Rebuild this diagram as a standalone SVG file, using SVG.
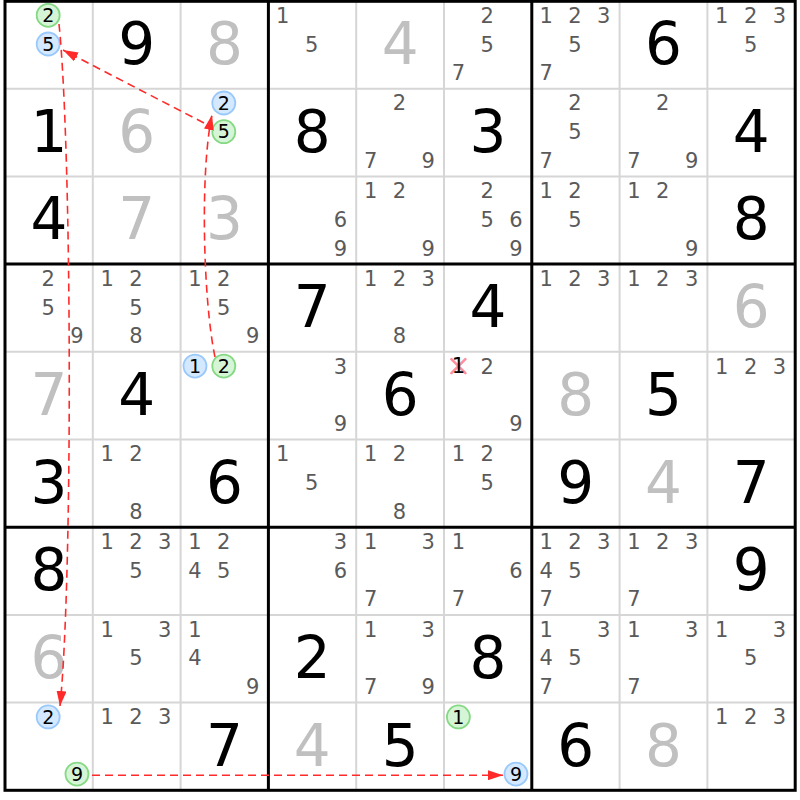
<svg xmlns="http://www.w3.org/2000/svg" width="800" height="800" viewBox="0 0 800 800">
<style>
.c{font-family:"DejaVu Sans","Liberation Sans",sans-serif;font-size:21px;fill:#5a5a5a;text-anchor:middle}
.b,.g{font-family:"DejaVu Sans","Liberation Sans",sans-serif;font-size:58px;text-anchor:middle}
.b{fill:#000}
.g{fill:#c0c0c0}
.t{font-family:"DejaVu Sans","Liberation Sans",sans-serif;font-size:19px;fill:#000;text-anchor:middle}
.cb{fill:#d4e8ff;stroke:#99c9fb;stroke-width:1.8}
.cg{fill:#d6f5d6;stroke:#85d985;stroke-width:1.8}
.thin{stroke:#d6d6d6;stroke-width:2}
.thick{stroke:#000;stroke-width:3}
.link{fill:none;stroke:#ff2a2a;stroke-width:1.6;stroke-dasharray:8 5;marker-end:url(#arrow)}
.x{stroke:#ff8e9e;stroke-width:2.6;stroke-linecap:round}
</style>
<defs>
<marker id="arrow" markerUnits="userSpaceOnUse" markerWidth="15" markerHeight="10" refX="15" refY="5" orient="auto">
<path d="M0,0 L15,5 L0,10 z" fill="#ff2a2a"/>
</marker>
</defs>
<rect x="0" y="0" width="800" height="800" fill="#fff"/>
<g id="grid">
<path class="thin" d="M92.8,1V790.3M180.6,1V790.3M356.2,1V790.3M444,1V790.3M619.6,1V790.3M707.4,1V790.3M5,88.7H795.2M5,176.4H795.2M5,351.8H795.2M5,439.5H795.2M5,614.9H795.2M5,702.6H795.2"/>
<path class="thick" d="M268.4,1V790.3M531.8,1V790.3M5,264.1H795.2M5,527.2H795.2"/>
<rect class="thick" x="5" y="1.3" width="790.2" height="789" fill="none"/>
</g>
<g id="cells">
<!-- row 0 -->
<g id="r0c0" transform="translate(5,1)"><circle class="cg" cx="43.2" cy="14.3" r="11.5"/><text class="t" x="43.2" y="21.1">2</text><circle class="cb" cx="43.2" cy="43" r="11.5"/><text class="t" x="43.2" y="49.8">5</text></g>
<g id="r0c1" transform="translate(92.8,1)"><text class="b" x="43.9" y="63">9</text></g>
<g id="r0c2" transform="translate(180.6,1)"><text class="g" x="43.9" y="63">8</text></g>
<g id="r0c3" transform="translate(268.4,1)"><text class="c" x="14.4" y="21.8">1</text><text class="c" x="43.2" y="50.6">5</text></g>
<g id="r0c4" transform="translate(356.2,1)"><text class="g" x="43.9" y="63">4</text></g>
<g id="r0c5" transform="translate(444,1)"><text class="c" x="43.2" y="21.8">2</text><text class="c" x="43.2" y="50.6">5</text><text class="c" x="14.4" y="79.2">7</text></g>
<g id="r0c6" transform="translate(531.8,1)"><text class="c" x="14.4" y="21.8">1</text><text class="c" x="43.2" y="21.8">2</text><text class="c" x="72" y="21.8">3</text><text class="c" x="43.2" y="50.6">5</text><text class="c" x="14.4" y="79.2">7</text></g>
<g id="r0c7" transform="translate(619.6,1)"><text class="b" x="43.9" y="63">6</text></g>
<g id="r0c8" transform="translate(707.4,1)"><text class="c" x="14.4" y="21.8">1</text><text class="c" x="43.2" y="21.8">2</text><text class="c" x="72" y="21.8">3</text><text class="c" x="43.2" y="50.6">5</text></g>
<!-- row 1 -->
<g id="r1c0" transform="translate(5,88.7)"><text class="b" x="43.9" y="63">1</text></g>
<g id="r1c1" transform="translate(92.8,88.7)"><text class="g" x="43.9" y="63">6</text></g>
<g id="r1c2" transform="translate(180.6,88.7)"><circle class="cb" cx="43.2" cy="14.3" r="11.5"/><text class="t" x="43.2" y="21.1">2</text><circle class="cg" cx="43.2" cy="43" r="11.5"/><text class="t" x="43.2" y="49.8">5</text></g>
<g id="r1c3" transform="translate(268.4,88.7)"><text class="b" x="43.9" y="63">8</text></g>
<g id="r1c4" transform="translate(356.2,88.7)"><text class="c" x="43.2" y="21.8">2</text><text class="c" x="14.4" y="79.2">7</text><text class="c" x="72" y="79.2">9</text></g>
<g id="r1c5" transform="translate(444,88.7)"><text class="b" x="43.9" y="63">3</text></g>
<g id="r1c6" transform="translate(531.8,88.7)"><text class="c" x="43.2" y="21.8">2</text><text class="c" x="43.2" y="50.6">5</text><text class="c" x="14.4" y="79.2">7</text></g>
<g id="r1c7" transform="translate(619.6,88.7)"><text class="c" x="43.2" y="21.8">2</text><text class="c" x="14.4" y="79.2">7</text><text class="c" x="72" y="79.2">9</text></g>
<g id="r1c8" transform="translate(707.4,88.7)"><text class="b" x="43.9" y="63">4</text></g>
<!-- row 2 -->
<g id="r2c0" transform="translate(5,176.4)"><text class="b" x="43.9" y="63">4</text></g>
<g id="r2c1" transform="translate(92.8,176.4)"><text class="g" x="43.9" y="63">7</text></g>
<g id="r2c2" transform="translate(180.6,176.4)"><text class="g" x="43.9" y="63">3</text></g>
<g id="r2c3" transform="translate(268.4,176.4)"><text class="c" x="72" y="50.6">6</text><text class="c" x="72" y="79.2">9</text></g>
<g id="r2c4" transform="translate(356.2,176.4)"><text class="c" x="14.4" y="21.8">1</text><text class="c" x="43.2" y="21.8">2</text><text class="c" x="72" y="79.2">9</text></g>
<g id="r2c5" transform="translate(444,176.4)"><text class="c" x="43.2" y="21.8">2</text><text class="c" x="43.2" y="50.6">5</text><text class="c" x="72" y="50.6">6</text><text class="c" x="72" y="79.2">9</text></g>
<g id="r2c6" transform="translate(531.8,176.4)"><text class="c" x="14.4" y="21.8">1</text><text class="c" x="43.2" y="21.8">2</text><text class="c" x="43.2" y="50.6">5</text></g>
<g id="r2c7" transform="translate(619.6,176.4)"><text class="c" x="14.4" y="21.8">1</text><text class="c" x="43.2" y="21.8">2</text><text class="c" x="72" y="79.2">9</text></g>
<g id="r2c8" transform="translate(707.4,176.4)"><text class="b" x="43.9" y="63">8</text></g>
<!-- row 3 -->
<g id="r3c0" transform="translate(5,264.1)"><text class="c" x="43.2" y="21.8">2</text><text class="c" x="43.2" y="50.6">5</text><text class="c" x="72" y="79.2">9</text></g>
<g id="r3c1" transform="translate(92.8,264.1)"><text class="c" x="14.4" y="21.8">1</text><text class="c" x="43.2" y="21.8">2</text><text class="c" x="43.2" y="50.6">5</text><text class="c" x="43.2" y="79.2">8</text></g>
<g id="r3c2" transform="translate(180.6,264.1)"><text class="c" x="14.4" y="21.8">1</text><text class="c" x="43.2" y="21.8">2</text><text class="c" x="43.2" y="50.6">5</text><text class="c" x="72" y="79.2">9</text></g>
<g id="r3c3" transform="translate(268.4,264.1)"><text class="b" x="43.9" y="63">7</text></g>
<g id="r3c4" transform="translate(356.2,264.1)"><text class="c" x="14.4" y="21.8">1</text><text class="c" x="43.2" y="21.8">2</text><text class="c" x="72" y="21.8">3</text><text class="c" x="43.2" y="79.2">8</text></g>
<g id="r3c5" transform="translate(444,264.1)"><text class="b" x="43.9" y="63">4</text></g>
<g id="r3c6" transform="translate(531.8,264.1)"><text class="c" x="14.4" y="21.8">1</text><text class="c" x="43.2" y="21.8">2</text><text class="c" x="72" y="21.8">3</text></g>
<g id="r3c7" transform="translate(619.6,264.1)"><text class="c" x="14.4" y="21.8">1</text><text class="c" x="43.2" y="21.8">2</text><text class="c" x="72" y="21.8">3</text></g>
<g id="r3c8" transform="translate(707.4,264.1)"><text class="g" x="43.9" y="63">6</text></g>
<!-- row 4 -->
<g id="r4c0" transform="translate(5,351.8)"><text class="g" x="43.9" y="63">7</text></g>
<g id="r4c1" transform="translate(92.8,351.8)"><text class="b" x="43.9" y="63">4</text></g>
<g id="r4c2" transform="translate(180.6,351.8)"><circle class="cb" cx="14.4" cy="14.3" r="11.5"/><text class="t" x="14.4" y="21.1">1</text><circle class="cg" cx="43.2" cy="14.3" r="11.5"/><text class="t" x="43.2" y="21.1">2</text></g>
<g id="r4c3" transform="translate(268.4,351.8)"><text class="c" x="72" y="21.8">3</text><text class="c" x="72" y="79.2">9</text></g>
<g id="r4c4" transform="translate(356.2,351.8)"><text class="b" x="43.9" y="63">6</text></g>
<g id="r4c5" transform="translate(444,351.8)"><path class="x" d="M7.4,7.3 L21.4,21.3 M21.4,7.3 L7.4,21.3"/><text class="t" x="14.4" y="21.3" style="font-size:21px">1</text><text class="c" x="43.2" y="21.8">2</text><text class="c" x="72" y="79.2">9</text></g>
<g id="r4c6" transform="translate(531.8,351.8)"><text class="g" x="43.9" y="63">8</text></g>
<g id="r4c7" transform="translate(619.6,351.8)"><text class="b" x="43.9" y="63">5</text></g>
<g id="r4c8" transform="translate(707.4,351.8)"><text class="c" x="14.4" y="21.8">1</text><text class="c" x="43.2" y="21.8">2</text><text class="c" x="72" y="21.8">3</text></g>
<!-- row 5 -->
<g id="r5c0" transform="translate(5,439.5)"><text class="b" x="43.9" y="63">3</text></g>
<g id="r5c1" transform="translate(92.8,439.5)"><text class="c" x="14.4" y="21.8">1</text><text class="c" x="43.2" y="21.8">2</text><text class="c" x="43.2" y="79.2">8</text></g>
<g id="r5c2" transform="translate(180.6,439.5)"><text class="b" x="43.9" y="63">6</text></g>
<g id="r5c3" transform="translate(268.4,439.5)"><text class="c" x="14.4" y="21.8">1</text><text class="c" x="43.2" y="50.6">5</text></g>
<g id="r5c4" transform="translate(356.2,439.5)"><text class="c" x="14.4" y="21.8">1</text><text class="c" x="43.2" y="21.8">2</text><text class="c" x="43.2" y="79.2">8</text></g>
<g id="r5c5" transform="translate(444,439.5)"><text class="c" x="14.4" y="21.8">1</text><text class="c" x="43.2" y="21.8">2</text><text class="c" x="43.2" y="50.6">5</text></g>
<g id="r5c6" transform="translate(531.8,439.5)"><text class="b" x="43.9" y="63">9</text></g>
<g id="r5c7" transform="translate(619.6,439.5)"><text class="g" x="43.9" y="63">4</text></g>
<g id="r5c8" transform="translate(707.4,439.5)"><text class="b" x="43.9" y="63">7</text></g>
<!-- row 6 -->
<g id="r6c0" transform="translate(5,527.2)"><text class="b" x="43.9" y="63">8</text></g>
<g id="r6c1" transform="translate(92.8,527.2)"><text class="c" x="14.4" y="21.8">1</text><text class="c" x="43.2" y="21.8">2</text><text class="c" x="72" y="21.8">3</text><text class="c" x="43.2" y="50.6">5</text></g>
<g id="r6c2" transform="translate(180.6,527.2)"><text class="c" x="14.4" y="21.8">1</text><text class="c" x="43.2" y="21.8">2</text><text class="c" x="14.4" y="50.6">4</text><text class="c" x="43.2" y="50.6">5</text></g>
<g id="r6c3" transform="translate(268.4,527.2)"><text class="c" x="72" y="21.8">3</text><text class="c" x="72" y="50.6">6</text></g>
<g id="r6c4" transform="translate(356.2,527.2)"><text class="c" x="14.4" y="21.8">1</text><text class="c" x="72" y="21.8">3</text><text class="c" x="14.4" y="79.2">7</text></g>
<g id="r6c5" transform="translate(444,527.2)"><text class="c" x="14.4" y="21.8">1</text><text class="c" x="72" y="50.6">6</text><text class="c" x="14.4" y="79.2">7</text></g>
<g id="r6c6" transform="translate(531.8,527.2)"><text class="c" x="14.4" y="21.8">1</text><text class="c" x="43.2" y="21.8">2</text><text class="c" x="72" y="21.8">3</text><text class="c" x="14.4" y="50.6">4</text><text class="c" x="43.2" y="50.6">5</text><text class="c" x="14.4" y="79.2">7</text></g>
<g id="r6c7" transform="translate(619.6,527.2)"><text class="c" x="14.4" y="21.8">1</text><text class="c" x="43.2" y="21.8">2</text><text class="c" x="72" y="21.8">3</text><text class="c" x="14.4" y="79.2">7</text></g>
<g id="r6c8" transform="translate(707.4,527.2)"><text class="b" x="43.9" y="63">9</text></g>
<!-- row 7 -->
<g id="r7c0" transform="translate(5,614.9)"><text class="g" x="43.9" y="63">6</text></g>
<g id="r7c1" transform="translate(92.8,614.9)"><text class="c" x="14.4" y="21.8">1</text><text class="c" x="72" y="21.8">3</text><text class="c" x="43.2" y="50.6">5</text></g>
<g id="r7c2" transform="translate(180.6,614.9)"><text class="c" x="14.4" y="21.8">1</text><text class="c" x="14.4" y="50.6">4</text><text class="c" x="72" y="79.2">9</text></g>
<g id="r7c3" transform="translate(268.4,614.9)"><text class="b" x="43.9" y="63">2</text></g>
<g id="r7c4" transform="translate(356.2,614.9)"><text class="c" x="14.4" y="21.8">1</text><text class="c" x="72" y="21.8">3</text><text class="c" x="14.4" y="79.2">7</text><text class="c" x="72" y="79.2">9</text></g>
<g id="r7c5" transform="translate(444,614.9)"><text class="b" x="43.9" y="63">8</text></g>
<g id="r7c6" transform="translate(531.8,614.9)"><text class="c" x="14.4" y="21.8">1</text><text class="c" x="72" y="21.8">3</text><text class="c" x="14.4" y="50.6">4</text><text class="c" x="43.2" y="50.6">5</text><text class="c" x="14.4" y="79.2">7</text></g>
<g id="r7c7" transform="translate(619.6,614.9)"><text class="c" x="14.4" y="21.8">1</text><text class="c" x="72" y="21.8">3</text><text class="c" x="14.4" y="79.2">7</text></g>
<g id="r7c8" transform="translate(707.4,614.9)"><text class="c" x="14.4" y="21.8">1</text><text class="c" x="72" y="21.8">3</text><text class="c" x="43.2" y="50.6">5</text></g>
<!-- row 8 -->
<g id="r8c0" transform="translate(5,702.6)"><circle class="cb" cx="43.2" cy="14.3" r="11.5"/><text class="t" x="43.2" y="21.1">2</text><circle class="cg" cx="72" cy="71.5" r="11.5"/><text class="t" x="72" y="78.3">9</text></g>
<g id="r8c1" transform="translate(92.8,702.6)"><text class="c" x="14.4" y="21.8">1</text><text class="c" x="43.2" y="21.8">2</text><text class="c" x="72" y="21.8">3</text></g>
<g id="r8c2" transform="translate(180.6,702.6)"><text class="b" x="43.9" y="63">7</text></g>
<g id="r8c3" transform="translate(268.4,702.6)"><text class="g" x="43.9" y="63">4</text></g>
<g id="r8c4" transform="translate(356.2,702.6)"><text class="b" x="43.9" y="63">5</text></g>
<g id="r8c5" transform="translate(444,702.6)"><circle class="cg" cx="14.4" cy="14.3" r="11.5"/><text class="t" x="14.4" y="21.1">1</text><circle class="cb" cx="72" cy="71.5" r="11.5"/><text class="t" x="72" y="78.3">9</text></g>
<g id="r8c6" transform="translate(531.8,702.6)"><text class="b" x="43.9" y="63">6</text></g>
<g id="r8c7" transform="translate(619.6,702.6)"><text class="g" x="43.9" y="63">8</text></g>
<g id="r8c8" transform="translate(707.4,702.6)"><text class="c" x="14.4" y="21.8">1</text><text class="c" x="43.2" y="21.8">2</text><text class="c" x="72" y="21.8">3</text></g>
</g>
<g id="connectors">
<path class="link" d="M59,24 C72,150 73,580 60,706"/>
<path class="link" d="M215,357 C203,300 200,170 212,115"/>
<path class="link" d="M204,123 L63,50"/>
<path class="link" d="M92,775.2 L503,775.2"/>
</g>
</svg>
